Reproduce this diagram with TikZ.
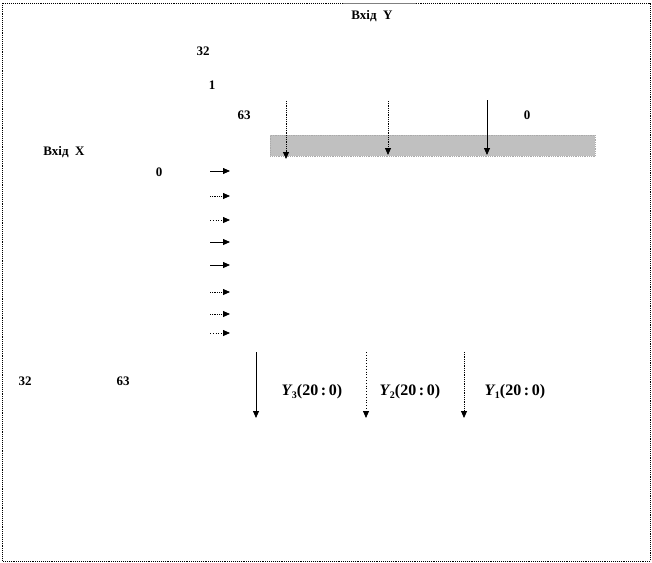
\documentclass[tikz,border=0pt]{standalone}
\usepackage{fontspec}
\setmainfont{Liberation Serif}
\usetikzlibrary{arrows.meta}
\tikzset{
  lbl/.style={font=\fontsize{13}{15}\selectfont\bfseries, inner sep=0pt},
  ylbl/.style={font=\fontsize{16}{18}\selectfont\bfseries, inner sep=0pt},
  arr/.style={-{Triangle[length=7pt,width=6pt]}, line width=0.8pt},
  frame/.style={densely dotted, line width=0.9pt},
  band/.style={fill={rgb,255:red,192;green,192;blue,192}, draw={rgb,255:red,170;green,170;blue,170}, densely dotted, line width=0.8pt}
}
\newcommand{\ylab}[1]{{\itshape Y}\kern0.5pt\raisebox{-0.35ex}{\fontsize{10}{11}\selectfont #1}(20\,:\,0)}
\begin{document}
\begin{tikzpicture}[x=1pt,y=-1pt]
\useasboundingbox (0,0) rectangle (652,562);
% outer frame
\draw[frame] (2.5,3) rectangle (650,561);
\draw[gray, line width=1pt] (343,3) -- (416,3);
% labels
\node[lbl] (iny) at (372,16) {Вхід\ \ Y};
\node[lbl] (n32a) at (203,51) {32};
\node[lbl] (n1) at (212,85) {1};
\node[lbl] (n63a) at (244,115) {63};
\node[lbl] (n0a) at (527,115) {0};
\node[lbl] (inx) at (64,152) {Вхід\ \ X};
\node[lbl] (n0b) at (159,172) {0};
\node[lbl] (n32b) at (25,381) {32};
\node[lbl] (n63b) at (123,381) {63};
% grey band
\node[band, minimum width=325pt, minimum height=21pt, inner sep=0pt, anchor=north west] (bandnode) at (270,135) {};
% top down arrows
\coordinate (t1s) at (286,101); \coordinate (t1e) at (286,159);
\coordinate (t2s) at (388,101); \coordinate (t2e) at (388,155);
\coordinate (t3s) at (487,100); \coordinate (t3e) at (487,155);
\draw[arr, densely dotted] (t1s) -- (t1e);
\draw[arr, densely dotted] (t2s) -- (t2e);
\draw[arr] (t3s) -- (t3e);
% right arrows
\foreach \yy/\st [count=\i] in {171/solid,196/densely dotted,220/dotted,242/solid,265/solid,292/densely dotted,314/densely dotted,333/dotted}{
  \coordinate (r\i s) at (210,\yy);
  \coordinate (r\i e) at (230,\yy);
  \draw[arr, \st] (r\i s) -- (r\i e);
}
% bottom down arrows
\coordinate (b1s) at (256,352); \coordinate (b1e) at (256,418);
\coordinate (b2s) at (366,352); \coordinate (b2e) at (366,418);
\coordinate (b3s) at (464,352); \coordinate (b3e) at (464,418);
\draw[arr] (b1s) -- (b1e);
\draw[arr, dotted] (b2s) -- (b2e);
\draw[arr, densely dotted] (b3s) -- (b3e);
% Y labels
\node[ylbl] (y3) at (312,392) {\ylab{3}};
\node[ylbl] (y2) at (410,392) {\ylab{2}};
\node[ylbl] (y1) at (515,392) {\ylab{1}};
\end{tikzpicture}
\end{document}
